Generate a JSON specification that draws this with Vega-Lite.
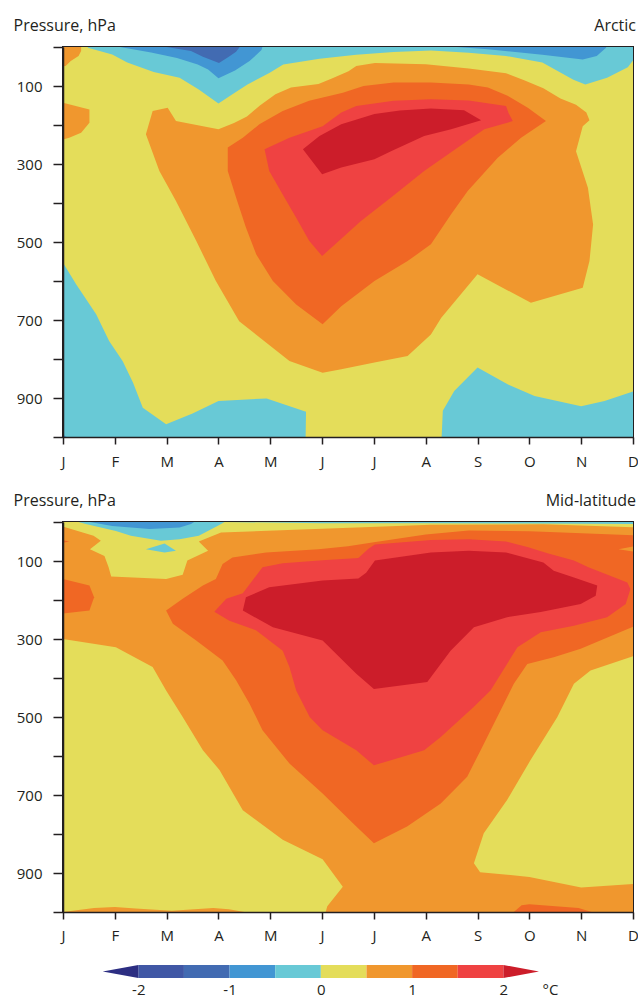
{
  "$schema": "https://vega.github.io/schema/vega-lite/v6.json",
  "padding": {"left": 12, "top": 16, "right": 4, "bottom": 10},
  "background": "white",
  "datasets": {
    "polys": [
      {"g": "A-bg", "s": "Arctic", "z": 1, "c": "0 to 0.5"},
      {"g": "A-O1", "s": "Arctic", "z": 2, "c": "0.5 to 1"},
      {"g": "A-O2", "s": "Arctic", "z": 2, "c": "0.5 to 1"},
      {"g": "A-O3", "s": "Arctic", "z": 2, "c": "0.5 to 1"},
      {"g": "A-DO", "s": "Arctic", "z": 3, "c": "1 to 1.5"},
      {"g": "A-R", "s": "Arctic", "z": 4, "c": "1.5 to 2"},
      {"g": "A-DR", "s": "Arctic", "z": 5, "c": "> 2"},
      {"g": "A-C1", "s": "Arctic", "z": 6, "c": "-0.5 to 0"},
      {"g": "A-C2", "s": "Arctic", "z": 6, "c": "-0.5 to 0"},
      {"g": "A-C3", "s": "Arctic", "z": 6, "c": "-0.5 to 0"},
      {"g": "A-B1a", "s": "Arctic", "z": 7, "c": "-1 to -0.5"},
      {"g": "A-B1b", "s": "Arctic", "z": 7, "c": "-1 to -0.5"},
      {"g": "A-B1c", "s": "Arctic", "z": 7, "c": "-1 to -0.5"},
      {"g": "A-B2", "s": "Arctic", "z": 8, "c": "-1.5 to -1"},
      {"g": "M-bg", "s": "Mid", "z": 1, "c": "0.5 to 1"},
      {"g": "M-Y1", "s": "Mid", "z": 2, "c": "0 to 0.5"},
      {"g": "M-Y2", "s": "Mid", "z": 2, "c": "0 to 0.5"},
      {"g": "M-Y3", "s": "Mid", "z": 2, "c": "0 to 0.5"},
      {"g": "M-O1", "s": "Mid", "z": 3, "c": "0.5 to 1"},
      {"g": "M-DO1", "s": "Mid", "z": 3, "c": "1 to 1.5"},
      {"g": "M-DO2", "s": "Mid", "z": 3, "c": "1 to 1.5"},
      {"g": "M-DO3", "s": "Mid", "z": 3, "c": "1 to 1.5"},
      {"g": "M-DO4", "s": "Mid", "z": 3, "c": "1 to 1.5"},
      {"g": "M-O2", "s": "Mid", "z": 4, "c": "0.5 to 1"},
      {"g": "M-R", "s": "Mid", "z": 4, "c": "1.5 to 2"},
      {"g": "M-DR", "s": "Mid", "z": 5, "c": "> 2"},
      {"g": "M-C1", "s": "Mid", "z": 6, "c": "-0.5 to 0"},
      {"g": "M-C2", "s": "Mid", "z": 6, "c": "-0.5 to 0"},
      {"g": "M-C3", "s": "Mid", "z": 6, "c": "-0.5 to 0"},
      {"g": "M-B1", "s": "Mid", "z": 7, "c": "-1 to -0.5"}
    ],
    "verts": [
      {"g":"A-bg","m":0.8,"p":-20},{"g":"A-bg","m":12.2,"p":-20},{"g":"A-bg","m":12.2,"p":1020},{"g":"A-bg","m":0.8,"p":1020},

      {"g":"A-O1","m":2.73,"p":164},{"g":"A-O1","m":3.02,"p":156},{"g":"A-O1","m":3.18,"p":190},{"g":"A-O1","m":4.0,"p":211},{"g":"A-O1","m":4.3,"p":195},{"g":"A-O1","m":4.55,"p":178},{"g":"A-O1","m":4.8,"p":150},{"g":"A-O1","m":5.1,"p":121},{"g":"A-O1","m":5.4,"p":104},{"g":"A-O1","m":5.93,"p":95},{"g":"A-O1","m":6.2,"p":80},{"g":"A-O1","m":6.51,"p":62},{"g":"A-O1","m":6.66,"p":49},{"g":"A-O1","m":7.02,"p":41},{"g":"A-O1","m":8.0,"p":44},{"g":"A-O1","m":8.83,"p":55},{"g":"A-O1","m":9.55,"p":67},{"g":"A-O1","m":9.9,"p":85},{"g":"A-O1","m":10.27,"p":106},{"g":"A-O1","m":10.6,"p":132},{"g":"A-O1","m":10.9,"p":148},{"g":"A-O1","m":11.1,"p":168},{"g":"A-O1","m":11.16,"p":188},{"g":"A-O1","m":11.03,"p":203},{"g":"A-O1","m":10.9,"p":267},{"g":"A-O1","m":11.13,"p":361},{"g":"A-O1","m":11.23,"p":455},{"g":"A-O1","m":11.16,"p":549},{"g":"A-O1","m":11.03,"p":617},{"g":"A-O1","m":10.03,"p":656},{"g":"A-O1","m":9.0,"p":583},{"g":"A-O1","m":8.3,"p":694},{"g":"A-O1","m":8.1,"p":737},{"g":"A-O1","m":7.65,"p":792},{"g":"A-O1","m":7.01,"p":809},{"g":"A-O1","m":6.37,"p":826},{"g":"A-O1","m":6.01,"p":835},{"g":"A-O1","m":5.37,"p":805},{"g":"A-O1","m":4.4,"p":703},{"g":"A-O1","m":3.95,"p":600},{"g":"A-O1","m":3.57,"p":497},{"g":"A-O1","m":3.18,"p":395},{"g":"A-O1","m":2.86,"p":318},{"g":"A-O1","m":2.6,"p":224},

      {"g":"A-O2","m":0.8,"p":-10},{"g":"A-O2","m":1.35,"p":-10},{"g":"A-O2","m":1.35,"p":10},{"g":"A-O2","m":1.3,"p":23},{"g":"A-O2","m":1.15,"p":36},{"g":"A-O2","m":1.05,"p":49},{"g":"A-O2","m":0.8,"p":52},

      {"g":"A-O3","m":0.8,"p":140},{"g":"A-O3","m":1.0,"p":143},{"g":"A-O3","m":1.51,"p":160},{"g":"A-O3","m":1.51,"p":194},{"g":"A-O3","m":1.35,"p":220},{"g":"A-O3","m":1.12,"p":233},{"g":"A-O3","m":1.0,"p":237},{"g":"A-O3","m":0.8,"p":237},

      {"g":"A-DO","m":4.18,"p":258},{"g":"A-DO","m":4.18,"p":318},{"g":"A-DO","m":4.34,"p":386},{"g":"A-DO","m":4.53,"p":463},{"g":"A-DO","m":4.73,"p":532},{"g":"A-DO","m":5.05,"p":600},{"g":"A-DO","m":5.5,"p":660},{"g":"A-DO","m":6.01,"p":711},{"g":"A-DO","m":6.37,"p":665},{"g":"A-DO","m":7.01,"p":600},{"g":"A-DO","m":7.65,"p":549},{"g":"A-DO","m":8.1,"p":506},{"g":"A-DO","m":8.49,"p":429},{"g":"A-DO","m":8.81,"p":369},{"g":"A-DO","m":9.39,"p":284},{"g":"A-DO","m":9.84,"p":233},{"g":"A-DO","m":10.32,"p":190},{"g":"A-DO","m":9.97,"p":156},{"g":"A-DO","m":9.58,"p":125},{"g":"A-DO","m":9.2,"p":104},{"g":"A-DO","m":8.83,"p":96},{"g":"A-DO","m":8.1,"p":91},{"g":"A-DO","m":7.38,"p":91},{"g":"A-DO","m":6.8,"p":100},{"g":"A-DO","m":6.4,"p":117},{"g":"A-DO","m":5.75,"p":138},{"g":"A-DO","m":5.24,"p":164},{"g":"A-DO","m":4.79,"p":198},{"g":"A-DO","m":4.47,"p":233},

      {"g":"A-R","m":4.89,"p":262},{"g":"A-R","m":4.98,"p":318},{"g":"A-R","m":5.24,"p":378},{"g":"A-R","m":5.5,"p":438},{"g":"A-R","m":5.75,"p":497},{"g":"A-R","m":6.0,"p":536},{"g":"A-R","m":6.75,"p":446},{"g":"A-R","m":7.33,"p":386},{"g":"A-R","m":7.97,"p":318},{"g":"A-R","m":8.62,"p":258},{"g":"A-R","m":9.13,"p":211},{"g":"A-R","m":9.68,"p":190},{"g":"A-R","m":9.6,"p":170},{"g":"A-R","m":9.55,"p":151},{"g":"A-R","m":8.83,"p":137},{"g":"A-R","m":8.1,"p":134},{"g":"A-R","m":7.38,"p":138},{"g":"A-R","m":6.66,"p":151},{"g":"A-R","m":6.37,"p":168},{"g":"A-R","m":6.01,"p":203},{"g":"A-R","m":5.37,"p":233},

      {"g":"A-DR","m":5.63,"p":262},{"g":"A-DR","m":5.95,"p":228},{"g":"A-DR","m":6.37,"p":198},{"g":"A-DR","m":7.01,"p":172},{"g":"A-DR","m":7.5,"p":163},{"g":"A-DR","m":8.1,"p":158},{"g":"A-DR","m":8.74,"p":162},{"g":"A-DR","m":9.07,"p":188},{"g":"A-DR","m":8.49,"p":211},{"g":"A-DR","m":7.97,"p":228},{"g":"A-DR","m":7.33,"p":267},{"g":"A-DR","m":7.01,"p":288},{"g":"A-DR","m":6.37,"p":309},{"g":"A-DR","m":6.0,"p":326},

      {"g":"A-C1","m":1.48,"p":-10},{"g":"A-C1","m":12.2,"p":-10},{"g":"A-C1","m":12.2,"p":12},{"g":"A-C1","m":12.05,"p":26},{"g":"A-C1","m":11.9,"p":52},{"g":"A-C1","m":11.5,"p":79},{"g":"A-C1","m":11.08,"p":96},{"g":"A-C1","m":10.85,"p":84},{"g":"A-C1","m":10.25,"p":40},{"g":"A-C1","m":9.55,"p":23},{"g":"A-C1","m":8.83,"p":15},{"g":"A-C1","m":8.1,"p":9},{"g":"A-C1","m":7.38,"p":13},{"g":"A-C1","m":6.66,"p":20},{"g":"A-C1","m":5.95,"p":30},{"g":"A-C1","m":5.25,"p":45},{"g":"A-C1","m":4.99,"p":66},{"g":"A-C1","m":4.56,"p":96},{"g":"A-C1","m":4.27,"p":121},{"g":"A-C1","m":4.0,"p":145},{"g":"A-C1","m":3.62,"p":109},{"g":"A-C1","m":3.25,"p":79},{"g":"A-C1","m":2.75,"p":64},{"g":"A-C1","m":2.24,"p":40},{"g":"A-C1","m":1.95,"p":19},{"g":"A-C1","m":1.48,"p":2},

      {"g":"A-C2","m":0.8,"p":553},{"g":"A-C2","m":1.0,"p":553},{"g":"A-C2","m":1.25,"p":608},{"g":"A-C2","m":1.64,"p":685},{"g":"A-C2","m":1.89,"p":754},{"g":"A-C2","m":2.15,"p":805},{"g":"A-C2","m":2.35,"p":860},{"g":"A-C2","m":2.54,"p":925},{"g":"A-C2","m":2.99,"p":967},{"g":"A-C2","m":3.5,"p":940},{"g":"A-C2","m":4.0,"p":908},{"g":"A-C2","m":4.93,"p":901},{"g":"A-C2","m":5.69,"p":935},{"g":"A-C2","m":5.68,"p":1020},{"g":"A-C2","m":0.8,"p":1020},

      {"g":"A-C3","m":8.3,"p":1020},{"g":"A-C3","m":8.33,"p":933},{"g":"A-C3","m":8.55,"p":882},{"g":"A-C3","m":9.0,"p":822},{"g":"A-C3","m":9.58,"p":865},{"g":"A-C3","m":10.1,"p":895},{"g":"A-C3","m":11.0,"p":921},{"g":"A-C3","m":11.45,"p":908},{"g":"A-C3","m":12.03,"p":882},{"g":"A-C3","m":12.2,"p":880},{"g":"A-C3","m":12.2,"p":1020},

      {"g":"A-B1a","m":2.1,"p":-10},{"g":"A-B1a","m":2.1,"p":0},{"g":"A-B1a","m":2.7,"p":14},{"g":"A-B1a","m":3.2,"p":28},{"g":"A-B1a","m":3.6,"p":45},{"g":"A-B1a","m":3.8,"p":58},{"g":"A-B1a","m":4.0,"p":80},{"g":"A-B1a","m":4.32,"p":60},{"g":"A-B1a","m":4.6,"p":36},{"g":"A-B1a","m":4.83,"p":8},{"g":"A-B1a","m":4.87,"p":-10},

      {"g":"A-B1b","m":8.6,"p":-10},{"g":"A-B1b","m":8.6,"p":0},{"g":"A-B1b","m":9.2,"p":6},{"g":"A-B1b","m":10.25,"p":20},{"g":"A-B1b","m":11.03,"p":32},{"g":"A-B1b","m":11.3,"p":23},{"g":"A-B1b","m":11.48,"p":2},{"g":"A-B1b","m":11.5,"p":-10},

      {"g":"A-B1c","m":0.8,"p":975},{"g":"A-B1c","m":1.12,"p":1005},{"g":"A-B1c","m":0.8,"p":1010},

      {"g":"A-B2","m":2.95,"p":-10},{"g":"A-B2","m":3.0,"p":0},{"g":"A-B2","m":3.47,"p":10},{"g":"A-B2","m":3.7,"p":25},{"g":"A-B2","m":4.01,"p":41},{"g":"A-B2","m":4.2,"p":25},{"g":"A-B2","m":4.34,"p":12},{"g":"A-B2","m":4.41,"p":0},{"g":"A-B2","m":4.42,"p":-10},

      {"g":"M-bg","m":0.8,"p":-20},{"g":"M-bg","m":12.2,"p":-20},{"g":"M-bg","m":12.2,"p":1020},{"g":"M-bg","m":0.8,"p":1020},

      {"g":"M-Y1","m":0.8,"p":-10},{"g":"M-Y1","m":12.2,"p":-10},{"g":"M-Y1","m":12.2,"p":14},{"g":"M-Y1","m":10.27,"p":6},{"g":"M-Y1","m":8.1,"p":7},{"g":"M-Y1","m":6.66,"p":14},{"g":"M-Y1","m":5.21,"p":21},{"g":"M-Y1","m":4.05,"p":27},{"g":"M-Y1","m":3.62,"p":50},{"g":"M-Y1","m":3.8,"p":74},{"g":"M-Y1","m":3.4,"p":99},{"g":"M-Y1","m":3.31,"p":135},{"g":"M-Y1","m":2.99,"p":146},{"g":"M-Y1","m":1.93,"p":140},{"g":"M-Y1","m":1.88,"p":116},{"g":"M-Y1","m":1.8,"p":87},{"g":"M-Y1","m":1.52,"p":70},{"g":"M-Y1","m":1.73,"p":48},{"g":"M-Y1","m":1.59,"p":35},{"g":"M-Y1","m":1.01,"p":12},{"g":"M-Y1","m":0.8,"p":10},

      {"g":"M-Y2","m":0.8,"p":300},{"g":"M-Y2","m":0.99,"p":300},{"g":"M-Y2","m":2.02,"p":321},{"g":"M-Y2","m":2.73,"p":372},{"g":"M-Y2","m":2.99,"p":432},{"g":"M-Y2","m":3.31,"p":500},{"g":"M-Y2","m":3.7,"p":585},{"g":"M-Y2","m":4.02,"p":636},{"g":"M-Y2","m":4.47,"p":739},{"g":"M-Y2","m":5.24,"p":815},{"g":"M-Y2","m":6.01,"p":865},{"g":"M-Y2","m":6.4,"p":935},{"g":"M-Y2","m":6.1,"p":985},{"g":"M-Y2","m":6.03,"p":1020},{"g":"M-Y2","m":0.8,"p":1020},

      {"g":"M-Y3","m":12.2,"p":340},{"g":"M-Y3","m":12.05,"p":342},{"g":"M-Y3","m":11.18,"p":381},{"g":"M-Y3","m":10.86,"p":415},{"g":"M-Y3","m":10.54,"p":500},{"g":"M-Y3","m":10.02,"p":611},{"g":"M-Y3","m":9.57,"p":713},{"g":"M-Y3","m":9.12,"p":798},{"g":"M-Y3","m":8.93,"p":875},{"g":"M-Y3","m":9.05,"p":898},{"g":"M-Y3","m":10.0,"p":910},{"g":"M-Y3","m":11.0,"p":937},{"g":"M-Y3","m":12.0,"p":928},{"g":"M-Y3","m":12.2,"p":927},

      {"g":"M-O1","m":0.8,"p":1000},{"g":"M-O1","m":1.0,"p":1000},{"g":"M-O1","m":1.6,"p":990},{"g":"M-O1","m":2.0,"p":987},{"g":"M-O1","m":2.4,"p":991},{"g":"M-O1","m":3.1,"p":997},{"g":"M-O1","m":3.9,"p":990},{"g":"M-O1","m":4.2,"p":993},{"g":"M-O1","m":4.5,"p":1000},{"g":"M-O1","m":4.5,"p":1020},{"g":"M-O1","m":0.8,"p":1020},

      {"g":"M-DO1","m":2.99,"p":227},{"g":"M-DO1","m":3.31,"p":197},{"g":"M-DO1","m":3.7,"p":163},{"g":"M-DO1","m":3.95,"p":146},{"g":"M-DO1","m":4.08,"p":108},{"g":"M-DO1","m":4.27,"p":91},{"g":"M-DO1","m":4.92,"p":78},{"g":"M-DO1","m":5.93,"p":70},{"g":"M-DO1","m":6.5,"p":62},{"g":"M-DO1","m":7.0,"p":52},{"g":"M-DO1","m":8.0,"p":32},{"g":"M-DO1","m":8.83,"p":22},{"g":"M-DO1","m":10.0,"p":24},{"g":"M-DO1","m":10.64,"p":27},{"g":"M-DO1","m":12.2,"p":35},{"g":"M-DO1","m":12.2,"p":268},{"g":"M-DO1","m":12.05,"p":266},{"g":"M-DO1","m":10.99,"p":325},{"g":"M-DO1","m":10.47,"p":347},{"g":"M-DO1","m":9.96,"p":364},{"g":"M-DO1","m":9.7,"p":415},{"g":"M-DO1","m":9.38,"p":500},{"g":"M-DO1","m":9.06,"p":585},{"g":"M-DO1","m":8.8,"p":653},{"g":"M-DO1","m":8.29,"p":722},{"g":"M-DO1","m":7.64,"p":781},{"g":"M-DO1","m":7.0,"p":824},{"g":"M-DO1","m":6.66,"p":781},{"g":"M-DO1","m":6.01,"p":696},{"g":"M-DO1","m":5.37,"p":619},{"g":"M-DO1","m":4.85,"p":534},{"g":"M-DO1","m":4.6,"p":466},{"g":"M-DO1","m":4.34,"p":406},{"g":"M-DO1","m":4.08,"p":355},{"g":"M-DO1","m":3.57,"p":304},{"g":"M-DO1","m":3.12,"p":261},

      {"g":"M-DO2","m":0.8,"p":146},{"g":"M-DO2","m":0.99,"p":146},{"g":"M-DO2","m":1.51,"p":163},{"g":"M-DO2","m":1.6,"p":193},{"g":"M-DO2","m":1.51,"p":227},{"g":"M-DO2","m":0.99,"p":235},{"g":"M-DO2","m":0.8,"p":235},

      {"g":"M-DO3","m":9.7,"p":1020},{"g":"M-DO3","m":9.7,"p":1000},{"g":"M-DO3","m":9.85,"p":983},{"g":"M-DO3","m":10.0,"p":980},{"g":"M-DO3","m":10.95,"p":990},{"g":"M-DO3","m":11.2,"p":1000},{"g":"M-DO3","m":11.2,"p":1020},

      {"g":"M-DO4","m":0.8,"p":42},{"g":"M-DO4","m":1.12,"p":50},{"g":"M-DO4","m":0.8,"p":58},

      {"g":"M-O2","m":12.2,"p":58},{"g":"M-O2","m":11.72,"p":70},{"g":"M-O2","m":12.2,"p":80},

      {"g":"M-R","m":3.92,"p":230},{"g":"M-R","m":4.15,"p":197},{"g":"M-R","m":4.47,"p":183},{"g":"M-R","m":4.85,"p":116},{"g":"M-R","m":5.24,"p":106},{"g":"M-R","m":6.01,"p":98},{"g":"M-R","m":6.7,"p":92},{"g":"M-R","m":6.9,"p":68},{"g":"M-R","m":7.02,"p":58},{"g":"M-R","m":8.1,"p":46},{"g":"M-R","m":8.83,"p":44},{"g":"M-R","m":9.55,"p":50},{"g":"M-R","m":9.98,"p":65},{"g":"M-R","m":10.35,"p":80},{"g":"M-R","m":10.86,"p":99},{"g":"M-R","m":11.14,"p":116},{"g":"M-R","m":11.89,"p":155},{"g":"M-R","m":11.95,"p":172},{"g":"M-R","m":11.86,"p":210},{"g":"M-R","m":11.5,"p":244},{"g":"M-R","m":10.86,"p":266},{"g":"M-R","m":10.22,"p":283},{"g":"M-R","m":9.77,"p":321},{"g":"M-R","m":9.25,"p":432},{"g":"M-R","m":8.93,"p":474},{"g":"M-R","m":8.29,"p":551},{"g":"M-R","m":7.97,"p":585},{"g":"M-R","m":7.0,"p":624},{"g":"M-R","m":6.66,"p":585},{"g":"M-R","m":6.01,"p":534},{"g":"M-R","m":5.76,"p":500},{"g":"M-R","m":5.5,"p":432},{"g":"M-R","m":5.37,"p":372},{"g":"M-R","m":5.24,"p":330},{"g":"M-R","m":4.73,"p":278},{"g":"M-R","m":4.21,"p":253},

      {"g":"M-DR","m":4.47,"p":227},{"g":"M-DR","m":4.53,"p":193},{"g":"M-DR","m":4.98,"p":167},{"g":"M-DR","m":6.01,"p":150},{"g":"M-DR","m":6.7,"p":145},{"g":"M-DR","m":6.85,"p":130},{"g":"M-DR","m":7.02,"p":99},{"g":"M-DR","m":8.1,"p":78},{"g":"M-DR","m":8.83,"p":74},{"g":"M-DR","m":9.55,"p":78},{"g":"M-DR","m":10.27,"p":104},{"g":"M-DR","m":10.47,"p":125},{"g":"M-DR","m":10.86,"p":142},{"g":"M-DR","m":11.31,"p":163},{"g":"M-DR","m":11.28,"p":189},{"g":"M-DR","m":10.99,"p":210},{"g":"M-DR","m":10.22,"p":231},{"g":"M-DR","m":9.57,"p":244},{"g":"M-DR","m":8.93,"p":270},{"g":"M-DR","m":8.48,"p":330},{"g":"M-DR","m":8.03,"p":410},{"g":"M-DR","m":7.0,"p":428},{"g":"M-DR","m":6.66,"p":389},{"g":"M-DR","m":6.01,"p":304},{"g":"M-DR","m":5.05,"p":270},

      {"g":"M-C1","m":1.3,"p":-10},{"g":"M-C1","m":1.3,"p":0},{"g":"M-C1","m":1.44,"p":5},{"g":"M-C1","m":2.02,"p":23},{"g":"M-C1","m":2.31,"p":35},{"g":"M-C1","m":2.89,"p":48},{"g":"M-C1","m":3.25,"p":44},{"g":"M-C1","m":3.62,"p":35},{"g":"M-C1","m":3.98,"p":10},{"g":"M-C1","m":4.12,"p":0},{"g":"M-C1","m":4.12,"p":-10},

      {"g":"M-C2","m":2.6,"p":70},{"g":"M-C2","m":2.96,"p":55},{"g":"M-C2","m":3.18,"p":74},{"g":"M-C2","m":2.96,"p":78},

      {"g":"M-C3","m":4.1,"p":-10},{"g":"M-C3","m":12.2,"p":-10},{"g":"M-C3","m":12.2,"p":5},{"g":"M-C3","m":10.0,"p":4},{"g":"M-C3","m":8.0,"p":3},{"g":"M-C3","m":6.0,"p":3},{"g":"M-C3","m":4.1,"p":0},

      {"g":"M-B1","m":1.52,"p":-10},{"g":"M-B1","m":1.52,"p":0},{"g":"M-B1","m":1.95,"p":10},{"g":"M-B1","m":2.67,"p":18},{"g":"M-B1","m":3.25,"p":14},{"g":"M-B1","m":3.47,"p":5},{"g":"M-B1","m":3.53,"p":0},{"g":"M-B1","m":3.53,"p":-10}
    ],
    "segs": [
      {"lo": -2, "hi": -1.5, "c": "-2 to -1.5"},
      {"lo": -1.5, "hi": -1, "c": "-1.5 to -1"},
      {"lo": -1, "hi": -0.5, "c": "-1 to -0.5"},
      {"lo": -0.5, "hi": 0, "c": "-0.5 to 0"},
      {"lo": 0, "hi": 0.5, "c": "0 to 0.5"},
      {"lo": 0.5, "hi": 1, "c": "0.5 to 1"},
      {"lo": 1, "hi": 1.5, "c": "1 to 1.5"},
      {"lo": 1.5, "hi": 2, "c": "1.5 to 2"}
    ],
    "tris": [
      {"g": "low", "c": "< -2", "v": -2, "h": 0},
      {"g": "low", "c": "< -2", "v": -2.39, "h": 0.5},
      {"g": "low", "c": "< -2", "v": -2, "h": 1},
      {"g": "high", "c": "> 2", "v": 2, "h": 0},
      {"g": "high", "c": "> 2", "v": 2.39, "h": 0.5},
      {"g": "high", "c": "> 2", "v": 2, "h": 1}
    ]
  },
  "vconcat": [
    {
      "width": 570,
      "height": 390,
      "title": {"text": "Arctic", "anchor": "end", "frame": "group", "fontSize": 16, "fontWeight": "normal", "color": "#231f20", "offset": 0, "dy": 17, "dx": 3, "font": "Open Sans"},
      "data": {"name": "verts"},
      "transform": [
        {"lookup": "g", "from": {"data": {"name": "polys"}, "key": "g", "fields": ["s", "z", "c"]}},
        {"filter": "datum.s == 'Arctic'"}
      ],
      "encoding": {
        "x": {"field": "m", "type": "quantitative", "scale": {"domain": [1, 12], "nice": false, "zero": false},
              "axis": {"values": [1,2,3,4,5,6,7,8,9,10,11,12], "labelExpr": "['J','F','M','A','M','J','J','A','S','O','N','D'][datum.value-1]", "title": null, "tickSize": 7, "labelPadding": 10, "labelFontSize": 15, "zindex": 1, "labelFlush": false}},
        "y": {"field": "p", "type": "quantitative", "scale": {"domain": [0, 1000], "reverse": true, "nice": false, "zero": false},
              "axis": {"values": [0,100,200,300,400,500,600,700,800,900,1000], "labelExpr": "datum.value % 200 == 100 ? datum.label : ''", "format": "d", "title": "Pressure, hPa", "titleAngle": 0, "titleAlign": "left", "titleBaseline": "alphabetic", "titleX": -50, "titleY": -17, "titleFontSize": 16, "titleFontWeight": "normal", "tickSize": 10, "labelPadding": 11, "labelFontSize": 15, "zindex": 1, "labelFlush": false}},
        "fill": {"field": "c", "type": "nominal", "legend": null,
                 "scale": {"domain": ["< -2","-2 to -1.5","-1.5 to -1","-1 to -0.5","-0.5 to 0","0 to 0.5","0.5 to 1","1 to 1.5","1.5 to 2","> 2"],
                           "range": ["#2C2E82","#4057A5","#426BB2","#4296D3","#68C9D6","#E4DD5A","#F0972E","#F06724","#EF4242","#CC1D2A"]}},
        "detail": {"field": "g"},
        "order": {"value": null}
      },
      "layer": [
        {"transform": [{"filter": "datum.z == 1"}], "mark": {"type": "line", "filled": true, "clip": true, "strokeWidth": 0}},
        {"transform": [{"filter": "datum.z == 2"}], "mark": {"type": "line", "filled": true, "clip": true, "strokeWidth": 0}},
        {"transform": [{"filter": "datum.z == 3"}], "mark": {"type": "line", "filled": true, "clip": true, "strokeWidth": 0}},
        {"transform": [{"filter": "datum.z == 4"}], "mark": {"type": "line", "filled": true, "clip": true, "strokeWidth": 0}},
        {"transform": [{"filter": "datum.z == 5"}], "mark": {"type": "line", "filled": true, "clip": true, "strokeWidth": 0}},
        {"transform": [{"filter": "datum.z == 6"}], "mark": {"type": "line", "filled": true, "clip": true, "strokeWidth": 0}},
        {"transform": [{"filter": "datum.z == 7"}], "mark": {"type": "line", "filled": true, "clip": true, "strokeWidth": 0}},
        {"transform": [{"filter": "datum.z == 8"}], "mark": {"type": "line", "filled": true, "clip": true, "strokeWidth": 0}}
      ]
    },
    {
      "width": 570,
      "height": 390,
      "title": {"text": "Mid-latitude", "anchor": "end", "frame": "group", "fontSize": 16, "fontWeight": "normal", "color": "#231f20", "offset": 0, "dy": 17, "dx": 3, "font": "Open Sans"},
      "data": {"name": "verts"},
      "transform": [
        {"lookup": "g", "from": {"data": {"name": "polys"}, "key": "g", "fields": ["s", "z", "c"]}},
        {"filter": "datum.s == 'Mid'"}
      ],
      "encoding": {
        "x": {"field": "m", "type": "quantitative", "scale": {"domain": [1, 12], "nice": false, "zero": false},
              "axis": {"values": [1,2,3,4,5,6,7,8,9,10,11,12], "labelExpr": "['J','F','M','A','M','J','J','A','S','O','N','D'][datum.value-1]", "title": null, "tickSize": 7, "labelPadding": 9, "labelFontSize": 15, "zindex": 1, "labelFlush": false}},
        "y": {"field": "p", "type": "quantitative", "scale": {"domain": [0, 1000], "reverse": true, "nice": false, "zero": false},
              "axis": {"values": [0,100,200,300,400,500,600,700,800,900,1000], "labelExpr": "datum.value % 200 == 100 ? datum.label : ''", "format": "d", "title": "Pressure, hPa", "titleAngle": 0, "titleAlign": "left", "titleBaseline": "alphabetic", "titleX": -50, "titleY": -17, "titleFontSize": 16, "titleFontWeight": "normal", "tickSize": 10, "labelPadding": 11, "labelFontSize": 15, "zindex": 1, "labelFlush": false}},
        "fill": {"field": "c", "type": "nominal", "legend": null,
                 "scale": {"domain": ["< -2","-2 to -1.5","-1.5 to -1","-1 to -0.5","-0.5 to 0","0 to 0.5","0.5 to 1","1 to 1.5","1.5 to 2","> 2"],
                           "range": ["#2C2E82","#4057A5","#426BB2","#4296D3","#68C9D6","#E4DD5A","#F0972E","#F06724","#EF4242","#CC1D2A"]}},
        "detail": {"field": "g"},
        "order": {"value": null}
      },
      "layer": [
        {"transform": [{"filter": "datum.z == 1"}], "mark": {"type": "line", "filled": true, "clip": true, "strokeWidth": 0}},
        {"transform": [{"filter": "datum.z == 2"}], "mark": {"type": "line", "filled": true, "clip": true, "strokeWidth": 0}},
        {"transform": [{"filter": "datum.z == 3"}], "mark": {"type": "line", "filled": true, "clip": true, "strokeWidth": 0}},
        {"transform": [{"filter": "datum.z == 4"}], "mark": {"type": "line", "filled": true, "clip": true, "strokeWidth": 0}},
        {"transform": [{"filter": "datum.z == 5"}], "mark": {"type": "line", "filled": true, "clip": true, "strokeWidth": 0}},
        {"transform": [{"filter": "datum.z == 6"}], "mark": {"type": "line", "filled": true, "clip": true, "strokeWidth": 0}},
        {"transform": [{"filter": "datum.z == 7"}], "mark": {"type": "line", "filled": true, "clip": true, "strokeWidth": 0}}
      ]
    },
    {
      "width": 570,
      "height": 13,
      "view": {"stroke": null},
      "layer": [
        {
          "data": {"name": "segs"},
          "mark": {"type": "rect"},
          "encoding": {
            "x": {"field": "lo", "type": "quantitative", "scale": {"domain": [-2.825, 3.42], "nice": false, "zero": false},
                  "axis": {"values": [-2, -1, 0, 1, 2], "labelExpr": "datum.value < 0 ? '-' + abs(datum.value) : '' + datum.value", "domain": false, "ticks": false, "labelPadding": 4, "labelFontSize": 15, "title": "°C", "titleX": 487, "titleY": 4, "titleAlign": "center", "titleBaseline": "top", "titleFontSize": 15, "titleFontWeight": "normal", "labelFlush": false}},
            "x2": {"field": "hi"},
            "y": {"datum": 0, "type": "quantitative", "scale": {"domain": [0, 1], "nice": false}, "axis": null},
            "y2": {"datum": 1},
            "fill": {"field": "c", "type": "nominal", "legend": null,
                     "scale": {"domain": ["< -2","-2 to -1.5","-1.5 to -1","-1 to -0.5","-0.5 to 0","0 to 0.5","0.5 to 1","1 to 1.5","1.5 to 2","> 2"],
                               "range": ["#2C2E82","#4057A5","#426BB2","#4296D3","#68C9D6","#E4DD5A","#F0972E","#F06724","#EF4242","#CC1D2A"]}}
          }
        },
        {
          "data": {"name": "tris"},
          "mark": {"type": "line", "filled": true, "strokeWidth": 0},
          "encoding": {
            "x": {"field": "v", "type": "quantitative"},
            "y": {"field": "h", "type": "quantitative"},
            "fill": {"field": "c", "type": "nominal", "legend": null},
            "detail": {"field": "g"},
            "order": {"value": null}
          }
        }
      ]
    }
  ],
  "spacing": 21,
  "config": {
    "font": "Open Sans",
    "view": {"stroke": "#231f20", "strokeWidth": 2},
    "axis": {"grid": false, "domainColor": "#231f20", "tickColor": "#231f20", "labelColor": "#231f20", "titleColor": "#231f20", "domainWidth": 1.5, "tickWidth": 1.5, "labelFont": "Open Sans", "titleFont": "Open Sans"}
  }
}
